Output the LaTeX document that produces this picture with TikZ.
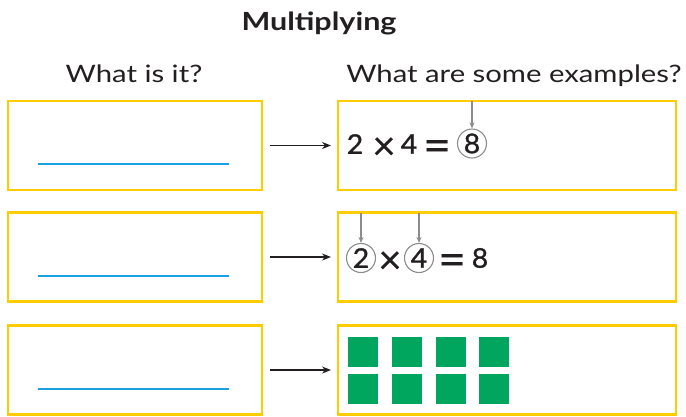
\documentclass[tikz,border=0pt]{standalone}
\usepackage{fontspec}
\setmainfont{Lato}[FakeStretch=1.22]
\newfontfamily\digfont{Lato}[FakeStretch=1.05,FakeBold=1.2]
\newfontfamily\symfont{Lato}[FakeBold=0.3]
\usetikzlibrary{arrows.meta}
\definecolor{ybord}{HTML}{FFCC00}
\definecolor{bline}{HTML}{1BA1E2}
\definecolor{gsq}{HTML}{00A65D}
\definecolor{txt}{HTML}{231F20}
\definecolor{grayc}{HTML}{8C8C8C}
\begin{document}
\begin{tikzpicture}[x=1pt,y=-1pt,
  ybox/.style={draw=ybord,line width=2.6pt,rectangle,minimum height=89pt,inner sep=0pt,outer sep=0pt},
  lbox/.style={ybox,minimum width=254pt},
  rbox/.style={ybox,minimum width=338pt},
  wline/.style={draw=bline,line width=2pt},
  arr/.style={draw=txt,line width=1.4pt,-{Stealth[length=9pt,width=7pt]}},
  garr/.style={draw=grayc,line width=1.2pt,-{Stealth[length=6pt,width=5pt]}},
  mtxt/.style={text=txt,font=\digfont\fontsize{27}{27}\selectfont,inner sep=0pt},
  xtxt/.style={text=txt,font=\symfont\fontsize{40}{40}\selectfont,inner sep=0pt},
  etxt/.style={text=txt,font=\symfont\fontsize{48}{48}\selectfont,inner sep=0pt},
  circ/.style={mtxt,draw=grayc,circle,line width=1.1pt,minimum size=29pt},
  sq/.style={fill=gsq,draw=none,minimum size=30pt,inner sep=0pt,rectangle},
  head/.style={text=txt,font=\fontsize{24}{24}\selectfont,anchor=base,inner sep=0pt}]
\useasboundingbox (0,0) rectangle (686,416);
% titles
\node[text=txt,font=\fontsize{25}{25}\selectfont\bfseries,anchor=base,inner sep=0pt] (title) at (319,30) {Multiplying};
\node[head] (h1) at (134,82) {What is it?};
\node[head] (h2) at (514,82) {What are some examples?};
% boxes
\node[lbox] (l1) at (135,145.5) {};
\node[lbox] (l2) at (135,257) {};
\node[lbox] (l3) at (135,370) {};
\node[rbox] (r1) at (507,145.5) {};
\node[rbox] (r2) at (507,257) {};
\node[rbox] (r3) at (507,370) {};
% writing lines
\foreach \i in {1,2,3}{
  \draw[wline] ([xshift=30pt,yshift=26pt]l\i.south west) -- ([xshift=-33pt,yshift=26pt]l\i.south east);
}
% arrows
\foreach \i in {1,2,3}{
  \draw[arr] ([xshift=8pt]l\i.east) -- ([xshift=-7pt]r\i.west);
}
% row 1
\node[mtxt] (a2) at (355,144) {2};
\node[xtxt] (ax) at (384,148.5) {×};
\node[mtxt] (a4) at (409,144) {4};
\node[etxt] (aeq) at (437,151) {=};
\node[circ] (a8) at (472,143.5) {8};
\draw[garr] (a8.north |- r1.north) -- (a8.north);
% row 2
\node[circ] (b2) at (361,258) {2};
\node[xtxt] (bx) at (390,262.5) {×};
\node[circ] (b4) at (419,258) {4};
\node[etxt] (beq) at (452,265) {=};
\node[mtxt] (b8) at (480,258) {8};
\draw[garr] (b2.north |- r2.north) -- (b2.north);
\draw[garr] (b4.north |- r2.north) -- (b4.north);
% row 3 squares
\foreach \x [count=\k] in {363,407,451,494}{
  \node[sq] (g1\k) at (\x,352) {};
  \node[sq] (g2\k) at (\x,389) {};
}
\end{tikzpicture}
\end{document}
